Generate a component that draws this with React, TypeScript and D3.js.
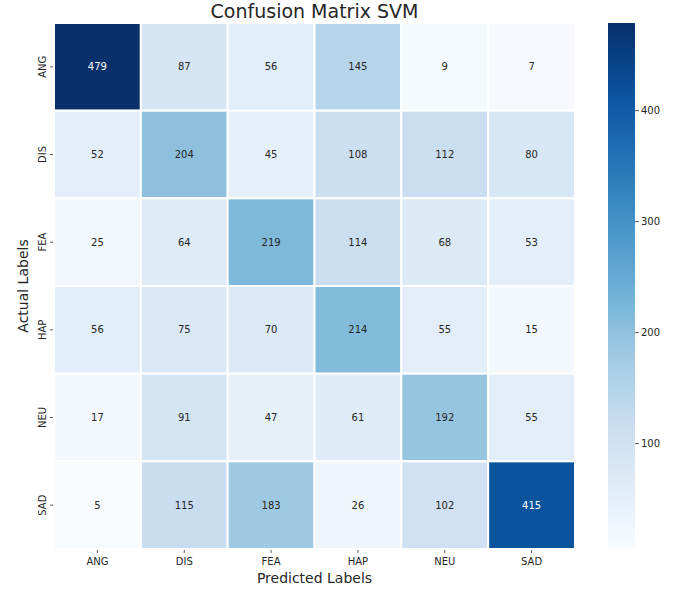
import React from "react";
import * as d3 from "d3";

const labels = ["ANG", "DIS", "FEA", "HAP", "NEU", "SAD"];
const rowANG = [479, 87, 56, 145, 9, 7];
const rowDIS = [52, 204, 45, 108, 112, 80];
const rowFEA = [25, 64, 219, 114, 68, 53];
const rowHAP = [56, 75, 70, 214, 55, 15];
const rowNEU = [17, 91, 47, 61, 192, 55];
const rowSAD = [5, 115, 183, 26, 102, 415];
const matrix = [rowANG, rowDIS, rowFEA, rowHAP, rowNEU, rowSAD];
const colorbarTicks = [100, 200, 300, 400];
const bluesStops = ["#f7fbff", "#deebf7", "#c6dbef", "#9ecae1", "#6baed6", "#4292c6", "#2171b5", "#08519c", "#08306b"];

const W = 685, H = 602;
const left = 54, right = 575, top = 23, bottom = 549;
const cbX0 = 608, cbX1 = 635;
const font = "DejaVu Sans, sans-serif";

export default function App() {
  const all = matrix.flat();
  const vmin = d3.min(all) as number;
  const vmax = d3.max(all) as number;
  const blues = d3.scaleLinear<string>()
    .domain(bluesStops.map((_, i) => i / (bluesStops.length - 1)))
    .range(bluesStops)
    .interpolate(d3.interpolateRgb);
  const norm = d3.scaleLinear().domain([vmin, vmax]).range([0, 1]).clamp(true);
  const color = (v: number) => blues(norm(v));
  const x = d3.scaleBand().domain(labels).range([left, right]);
  const y = d3.scaleBand().domain(labels).range([top, bottom]);
  const cb = d3.scaleLinear().domain([vmin, vmax]).range([bottom, top]);
  const textColor = (v: number) => {
    const c = d3.rgb(color(v));
    const lum = 0.2126 * c.r + 0.7152 * c.g + 0.0722 * c.b;
    return lum > 120 ? "#262626" : "#ffffff";
  };
  const gradStops = d3.range(0, 1.0001, 0.05);

  return (
    <svg width={W} height={H} style={{ position: "absolute", left: 0, top: 0, background: "#fff" }}>
      <defs>
        <linearGradient id="cbgrad" x1="0" y1="1" x2="0" y2="0">
          {gradStops.map((t) => (
            <stop key={t} offset={t} stopColor={blues(t)} />
          ))}
        </linearGradient>
      </defs>
      <text x={(left + right) / 2} y={18} textAnchor="middle" fontFamily={font} fontSize={19} fill="#262626">
        Confusion Matrix SVM
      </text>
      {matrix.map((row, ri) =>
        row.map((v, ci) => (
          <g key={`${ri}-${ci}`}>
            <rect
              x={x(labels[ci])!}
              y={y(labels[ri])!}
              width={x.bandwidth()}
              height={y.bandwidth()}
              fill={color(v)}
              stroke="#ffffff"
              strokeWidth={2}
            />
            <text
              x={x(labels[ci])! + x.bandwidth() / 2}
              y={y(labels[ri])! + y.bandwidth() / 2}
              dy="0.35em"
              textAnchor="middle"
              fontFamily={font}
              fontSize={10}
              fill={textColor(v)}
            >
              {v}
            </text>
          </g>
        ))
      )}
      {labels.map((l) => (
        <g key={"x" + l}>
          <line x1={x(l)! + x.bandwidth() / 2} x2={x(l)! + x.bandwidth() / 2} y1={bottom + 1} y2={bottom + 4} stroke="#333" strokeWidth={0.8} />
          <text x={x(l)! + x.bandwidth() / 2} y={bottom + 16} textAnchor="middle" fontFamily={font} fontSize={10} fill="#262626">{l}</text>
        </g>
      ))}
      {labels.map((l) => {
        const cy = y(l)! + y.bandwidth() / 2;
        return (
          <g key={"y" + l}>
            <line x1={left - 4} x2={left - 1} y1={cy} y2={cy} stroke="#333" strokeWidth={0.8} />
            <text transform={`translate(${left - 8},${cy}) rotate(-90)`} textAnchor="middle" fontFamily={font} fontSize={10} fill="#262626">{l}</text>
          </g>
        );
      })}
      <text x={(left + right) / 2} y={583} textAnchor="middle" fontFamily={font} fontSize={14} fill="#262626">Predicted Labels</text>
      <text transform={`translate(28,${(top + bottom) / 2}) rotate(-90)`} textAnchor="middle" fontFamily={font} fontSize={14} fill="#262626">Actual Labels</text>
      <rect x={cbX0} y={top} width={cbX1 - cbX0} height={bottom - top} fill="url(#cbgrad)" />
      {colorbarTicks.map((t) => (
        <g key={"cb" + t}>
          <line x1={cbX1} x2={cbX1 + 4} y1={cb(t)} y2={cb(t)} stroke="#333" strokeWidth={0.8} />
          <text x={cbX1 + 6} y={cb(t)} dy="0.35em" fontFamily={font} fontSize={10} fill="#262626">{t}</text>
        </g>
      ))}
    </svg>
  );
}
